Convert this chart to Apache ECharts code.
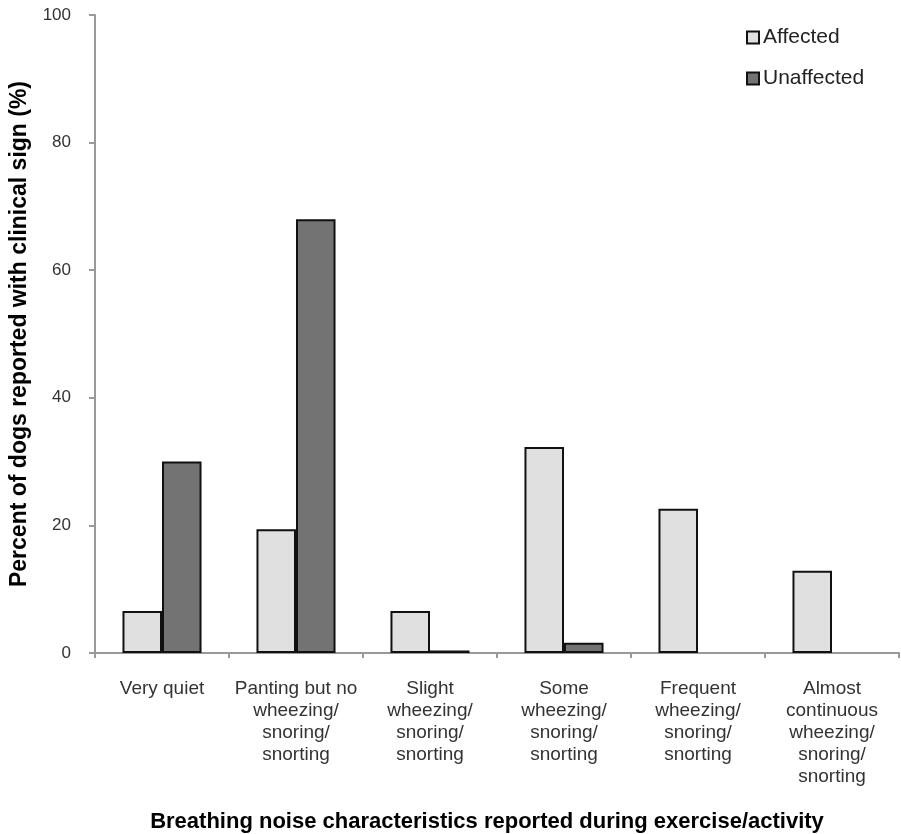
<!DOCTYPE html>
<html>
<head>
<meta charset="utf-8">
<script src="https://cdn.jsdelivr.net/npm/echarts@6/dist/echarts.min.js"></script>
<style>html,body{margin:0;padding:0;background:#fff}#c{width:901px;height:834px}</style>
</head>
<body>
<div id="c"></div>
<script>
const categories = [
  "Very quiet",
  "Panting but no\nwheezing/\nsnoring/\nsnorting",
  "Slight\nwheezing/\nsnoring/\nsnorting",
  "Some\nwheezing/\nsnoring/\nsnorting",
  "Frequent\nwheezing/\nsnoring/\nsnorting",
  "Almost\ncontinuous\nwheezing/\nsnoring/\nsnorting"
];
const affected = [6.6, 19.4, 6.6, 32.3, 22.6, 12.9];
const unaffected = [30.0, 68.0, 0.4, 1.6, 0, 0];
const yTicks = [0, 20, 40, 60, 80, 100];
const seriesNames = ["Affected", "Unaffected"];
const yTitle = "Percent of dogs reported with clinical sign (%)";
const xTitle = "Breathing noise characteristics reported during exercise/activity";

const font = "'Liberation Sans', Arial, sans-serif";
const chart = echarts.init(document.getElementById('c'), null, {renderer: 'canvas'});
chart.setOption({
  animation: false,
  backgroundColor: '#fff',
  grid: {left: 95, right: 2, top: 15, bottom: 181, containLabel: false, outerBoundsMode: 'none'},
  legend: {
    orient: 'vertical', left: 741, top: 22,
    itemWidth: 12, itemHeight: 12, itemGap: 20,
    icon: 'rect',
    textStyle: {fontFamily: font, fontSize: 21, color: '#222', padding: [0, 0, 0, -1]},
    data: seriesNames
  },
  xAxis: {
    type: 'category', data: categories,
    name: xTitle, nameLocation: 'middle', nameGap: 158,
    nameTextStyle: {fontFamily: font, fontSize: 22, fontWeight: 'bold', color: '#000', padding: [0, 20, 0, 0]},
    axisLine: {lineStyle: {color: '#999', width: 2}},
    axisTick: {show: true, length: 5, lineStyle: {color: '#999', width: 2}, alignWithLabel: false},
    axisLabel: {interval: 0, margin: 25, fontFamily: font, fontSize: 19, color: '#333', lineHeight: 22, align: 'center'}
  },
  yAxis: {
    type: 'value', min: 0, max: 100, interval: 20,
    name: yTitle, nameLocation: 'middle', nameGap: 64, nameRotate: 90,
    nameTextStyle: {fontFamily: font, fontSize: 23, fontWeight: 'bold', color: '#000'},
    axisLine: {show: true, lineStyle: {color: '#999', width: 2}},
    axisTick: {show: true, length: 6, lineStyle: {color: '#999', width: 2}},
    splitLine: {show: false},
    axisLabel: {margin: 24, fontFamily: font, fontSize: 17, color: '#333',
      formatter: v => yTicks.includes(v) ? String(v) : ''}
  },
  series: [
    {
      name: seriesNames[0], type: 'bar', data: affected,
      barGap: '0%', barCategoryGap: '41%',
      itemStyle: {color: '#e0e0e0', borderColor: '#111', borderWidth: 2}
    },
    {
      name: seriesNames[1], type: 'bar',
      data: unaffected.map(v => v === 0 ? '-' : v),
      itemStyle: {color: '#737373', borderColor: '#111', borderWidth: 2}
    }
  ]
});
</script>
</body>
</html>
